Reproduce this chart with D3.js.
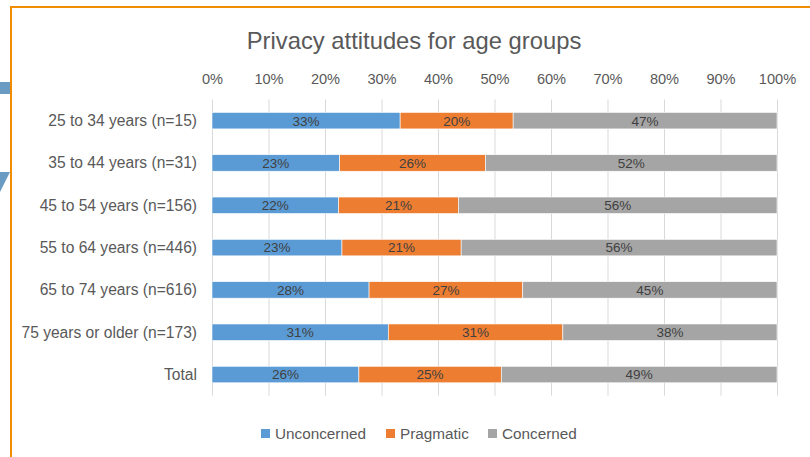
<!DOCTYPE html>
<html><head><meta charset="utf-8">
<script src="https://cdn.jsdelivr.net/npm/d3@7"></script>
<style>html,body{margin:0;padding:0;background:#fff;}svg{display:block;}</style>
</head><body>
<svg id="c" width="810" height="457"></svg>
<script>
const categories = ["25 to 34 years (n=15)","35 to 44 years (n=31)","45 to 54 years (n=156)","55 to 64 years (n=446)","65 to 74 years (n=616)","75 years or older (n=173)","Total"];
const seriesNames = ["Unconcerned","Pragmatic","Concerned"];
const unconcerned = [33.3, 22.6, 22.4, 23.0, 27.8, 31.2, 26.0];
const pragmatic   = [20.0, 25.8, 21.2, 21.1, 27.2, 30.9, 25.2];
const concerned   = [46.7, 51.6, 56.4, 55.9, 45.0, 37.9, 48.8];
const labelsUnconcerned = ["33%","23%","22%","23%","28%","31%","26%"];
const labelsPragmatic   = ["20%","26%","21%","21%","27%","31%","25%"];
const labelsConcerned   = ["47%","52%","56%","56%","45%","38%","49%"];
const tickValues = [0,10,20,30,40,50,60,70,80,90,100];
const colors = ["#5B9BD5","#ED7D31","#A5A5A5"];

const svg = d3.select("#c");
const font = "'Liberation Sans', Arial, sans-serif";

// decorative frame pieces
svg.append("path").attr("d","M0,82H10V94H0Z").attr("fill","#6A9CC3");
svg.append("path").attr("d","M0,172H10L0,192Z").attr("fill","#6A9CC3");
svg.append("line").attr("x1",11).attr("x2",11).attr("y1",6).attr("y2",457).attr("stroke","#F28C00").attr("stroke-width",2);
svg.append("line").attr("x1",10).attr("x2",810).attr("y1",7).attr("y2",7).attr("stroke","#F28C00").attr("stroke-width",2);

const x = d3.scaleLinear().domain([0,100]).range([212,777]);
const y = d3.scaleBand().domain(categories).range([99.5,395.7]).paddingInner(0.61).paddingOuter(0.305);

// gridlines
svg.append("g").selectAll("line").data(tickValues).join("line")
  .attr("x1",d=>x(d)+0.5).attr("x2",d=>x(d)+0.5).attr("y1",99.5).attr("y2",395.7)
  .attr("stroke","#D9D9D9").attr("stroke-width",1);

// top axis labels
const xAxis = d3.axisTop(x).tickValues(tickValues).tickFormat(d=>d+"%").tickSize(0).tickPadding(0);
const ax = svg.append("g").attr("transform","translate(0,84)").call(xAxis);
ax.select(".domain").remove();
ax.selectAll("text").attr("font-family",font).attr("font-size",14.6).attr("fill","#595959");

// category labels
const yAxis = d3.axisLeft(y).tickSize(0).tickPadding(0);
const ay = svg.append("g").attr("transform","translate(197,0)").call(yAxis);
ay.select(".domain").remove();
ay.selectAll("text").attr("font-family",font).attr("font-size",15.6).attr("fill","#595959").attr("dy","0.35em");

// stacked data
const rows = categories.map((c,i)=>({cat:c, Unconcerned:unconcerned[i], Pragmatic:pragmatic[i], Concerned:concerned[i]}));
const labelArr = [labelsUnconcerned, labelsPragmatic, labelsConcerned];
const stack = d3.stack().keys(seriesNames)(rows);

stack.forEach((layer,si)=>{
  const g = svg.append("g");
  g.selectAll("rect").data(layer).join("rect")
    .attr("x",d=>x(d[0])).attr("width",d=>x(d[1])-x(d[0]))
    .attr("y",d=>y(d.data.cat)).attr("height",y.bandwidth())
    .attr("fill",colors[si]).attr("stroke","#fff").attr("stroke-width",0.6);
  g.selectAll("text").data(layer).join("text")
    .attr("x",d=>(x(d[0])+x(d[1]))/2).attr("y",d=>y(d.data.cat)+y.bandwidth()/2)
    .attr("dy","0.36em").attr("text-anchor","middle")
    .attr("font-family",font).attr("font-size",13.5).attr("fill","#404040")
    .text((d,i)=>labelArr[si][i]);
});

// title
svg.append("text").attr("x",414).attr("y",49).attr("text-anchor","middle")
  .attr("font-family",font).attr("font-size",23.8).attr("fill","#595959")
  .text("Privacy attitudes for age groups");

// legend
const legX = [261, 386, 488];
const leg = svg.append("g");
seriesNames.forEach((s,i)=>{
  leg.append("rect").attr("x",legX[i]).attr("y",429).attr("width",9).attr("height",9).attr("fill",colors[i]);
  leg.append("text").attr("x",legX[i]+14).attr("y",438.5)
    .attr("font-family",font).attr("font-size",15.3).attr("fill","#595959").text(s);
});
</script>
</body></html>
